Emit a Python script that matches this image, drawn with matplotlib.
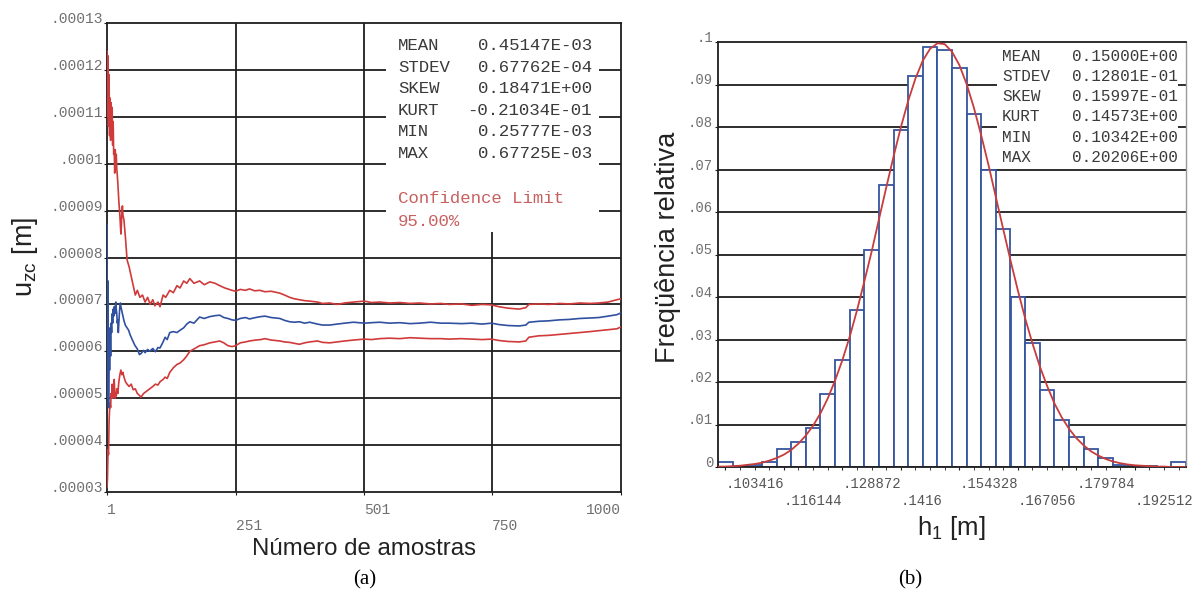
import numpy as np
import matplotlib.pyplot as plt
from matplotlib.patches import Rectangle

plt.rcParams['font.family'] = ['Liberation Sans', 'DejaVu Sans']
plt.rcParams['mathtext.default'] = 'regular'

# ---- (a) convergence of u_zc (values in 1e-5 m) vs number of samples ----
upper_band = [(1, 12.4), (2, 11.0), (3, 12.3), (4, 10.8), (5, 11.9), (6, 10.6), (7, 11.4), (8, 10.5),
              (9, 11.3), (10, 10.7), (11, 11.2), (12, 10.4), (13, 10.9), (14, 10.2), (15, 10.3),
              (16, 9.8), (17, 10.3), (18, 9.9), (19, 10.2), (20, 9.9), (22, 9.6), (24, 9.2), (26, 8.9),
              (28, 8.5), (29, 8.7), (30, 9.0), (31, 9.1), (32, 8.9), (34, 8.8), (37, 8.4), (40, 7.95),
              (44, 7.8), (48, 7.6), (52, 7.4), (56, 7.2), (60, 7.3), (65, 7.15), (70, 7.2), (75, 7.05),
              (80, 7.15), (85, 7.0), (90, 7.1), (94, 6.97), (100, 7.05), (104, 6.95), (110, 7.2),
              (115, 7.15), (123, 7.3), (130, 7.25), (137, 7.4), (143, 7.35), (150, 7.5), (156, 7.45),
              (162, 7.55), (170, 7.45), (181, 7.5), (190, 7.42), (201, 7.48), (211, 7.45), (220, 7.4),
              (230, 7.35), (244, 7.3), (251, 7.28), (260, 7.32), (270, 7.3), (278, 7.33), (288, 7.29),
              (298, 7.3), (308, 7.27), (320, 7.28), (337, 7.24), (346, 7.2), (356, 7.15), (365, 7.12),
              (375, 7.1), (385, 7.08), (395, 7.07), (410, 7.05), (420, 7.02), (434, 7.03), (448, 7.0),
              (463, 7.03), (480, 7.05), (501, 7.07), (515, 7.04), (531, 7.05), (550, 7.03), (570, 7.04),
              (590, 7.02), (608, 7.03), (630, 7.01), (650, 7.02), (666, 7.0), (690, 7.01), (710, 6.98),
              (730, 7.0), (748, 6.99), (763, 6.95), (780, 6.92), (802, 6.9), (815, 6.93), (821, 7.0),
              (840, 7.01), (860, 7.0), (880, 7.02), (900, 7.01), (920, 7.03), (940, 7.02), (957, 7.03),
              (975, 7.05), (992, 7.1), (1000, 7.12)]

mean_line = [(1, 8.7), (2, 5.0), (3, 7.5), (4, 4.8), (5, 6.3), (6, 5.6), (7, 6.5), (8, 5.9), (9, 6.6),
             (10, 6.4), (11, 6.8), (12, 6.6), (13, 6.9), (14, 6.75), (15, 6.95), (16, 6.8), (17, 6.9),
             (18, 7.05), (19, 6.9), (20, 6.8), (21, 6.6), (22, 6.67), (23, 6.4), (24, 6.6), (25, 6.8),
             (26, 6.95), (27, 7.03), (28, 6.95), (30, 6.85), (32, 6.75), (34, 6.65), (37, 6.55),
             (40, 6.5), (43, 6.45), (46, 6.35), (50, 6.25), (55, 6.13), (60, 6.05), (64, 5.93),
             (67, 5.95), (72, 6.02), (75, 5.97), (80, 6.04), (84, 6.0), (90, 6.06), (95, 5.99),
             (100, 6.08), (104, 6.07), (110, 6.2), (114, 6.3), (118, 6.25), (123, 6.4), (130, 6.42),
             (137, 6.4), (143, 6.45), (150, 6.5), (156, 6.58), (162, 6.63), (170, 6.6), (181, 6.73),
             (190, 6.7), (201, 6.74), (211, 6.76), (220, 6.77), (228, 6.72), (236, 6.7), (244, 6.67),
             (251, 6.66), (260, 6.7), (270, 6.72), (278, 6.69), (290, 6.72), (300, 6.74), (308, 6.75),
             (320, 6.72), (337, 6.7), (346, 6.66), (356, 6.63), (365, 6.62), (375, 6.63), (385, 6.6),
             (395, 6.62), (410, 6.58), (420, 6.56), (434, 6.56), (448, 6.58), (463, 6.6), (480, 6.62),
             (501, 6.6), (515, 6.61), (531, 6.62), (550, 6.6), (570, 6.61), (590, 6.59), (608, 6.6),
             (630, 6.62), (650, 6.6), (666, 6.6), (690, 6.59), (710, 6.6), (730, 6.58), (748, 6.6),
             (763, 6.57), (780, 6.55), (802, 6.54), (815, 6.56), (821, 6.62), (840, 6.64), (860, 6.65),
             (880, 6.67), (900, 6.68), (920, 6.7), (940, 6.71), (957, 6.72), (975, 6.75), (992, 6.78),
             (1000, 6.82)]

lower_band = [(1, 3.1), (2, 3.3), (3, 3.9), (4, 3.8), (5, 4.5), (6, 4.75), (7, 4.9), (8, 4.8), (9, 5.1),
              (10, 5.0), (11, 5.3), (12, 5.0), (13, 5.2), (14, 5.05), (15, 5.4), (16, 5.15), (17, 5.0),
              (18, 5.1), (19, 5.05), (20, 5.2), (22, 5.1), (24, 5.35), (26, 5.5), (28, 5.6), (30, 5.5),
              (32, 5.55), (34, 5.45), (37, 5.35), (40, 5.3), (44, 5.25), (48, 5.3), (52, 5.18),
              (56, 5.2), (60, 5.1), (65, 5.05), (67, 5.02), (72, 5.1), (78, 5.15), (84, 5.2), (90, 5.25),
              (95, 5.3), (100, 5.28), (104, 5.35), (110, 5.4), (114, 5.45), (118, 5.42), (123, 5.55),
              (130, 5.65), (137, 5.72), (143, 5.75), (150, 5.82), (156, 5.9), (162, 6.0), (170, 6.05),
              (181, 6.12), (190, 6.14), (201, 6.18), (211, 6.2), (220, 6.22), (228, 6.18), (236, 6.12),
              (244, 6.1), (251, 6.12), (260, 6.18), (270, 6.2), (278, 6.22), (290, 6.24), (300, 6.25),
              (308, 6.27), (320, 6.24), (337, 6.22), (346, 6.2), (356, 6.19), (365, 6.17), (375, 6.15),
              (385, 6.18), (395, 6.2), (410, 6.22), (420, 6.19), (434, 6.18), (448, 6.2), (463, 6.22),
              (480, 6.24), (501, 6.26), (515, 6.25), (531, 6.27), (550, 6.28), (570, 6.27), (590, 6.29),
              (608, 6.28), (630, 6.27), (650, 6.27), (666, 6.26), (690, 6.27), (710, 6.26), (730, 6.25),
              (748, 6.26), (763, 6.23), (780, 6.21), (802, 6.2), (815, 6.22), (821, 6.3), (840, 6.33),
              (860, 6.34), (880, 6.36), (900, 6.38), (920, 6.4), (940, 6.42), (957, 6.44), (975, 6.46),
              (992, 6.48), (1000, 6.52)]

stats_a = [("MEAN", "0.45147E-03"), ("STDEV", "0.67762E-04"), ("SKEW", "0.18471E+00"),
           ("KURT", "-0.21034E-01"), ("MIN", "0.25777E-03"), ("MAX", "0.67725E-03")]
xticks_a = [1, 251, 501, 750, 1000]
yticks_a = [3, 4, 5, 6, 7, 8, 9, 10, 11, 12, 13]
ylabels_a = [".00003", ".00004", ".00005", ".00006", ".00007", ".00008", ".00009",
             ".0001", ".00011", ".00012", ".00013"]

# ---- (b) histogram of h1 ----
h_min, h_max = 0.103416, 0.20206
hist_freq = [0.0012, 0.0002, 0.0004, 0.0012, 0.0042, 0.0060, 0.0092, 0.0171, 0.0252, 0.0370,
             0.0510, 0.0664, 0.0794, 0.0920, 0.0988, 0.0981, 0.0940, 0.0830, 0.0700, 0.0560,
             0.0400, 0.0292, 0.0181, 0.0110, 0.0071, 0.0042, 0.0021, 0.0004, 0.0002, 0.0003,
             0.0, 0.0012]
# fitted curve read at half-bin steps across the axis
curve_y = [0.0001, 0.0001, 0.0002, 0.0003, 0.0005, 0.0007, 0.0010, 0.0015, 0.0021, 0.0029,
           0.0040, 0.0055, 0.0074, 0.0097, 0.0126, 0.0161, 0.0203, 0.0251, 0.0306, 0.0368,
           0.0436, 0.0506, 0.0582, 0.0657, 0.0730, 0.0799, 0.0861, 0.0914, 0.0956, 0.0984,
           0.0997, 0.0995, 0.0977, 0.0946, 0.0901, 0.0845, 0.0780, 0.0710, 0.0635, 0.0560,
           0.0486, 0.0416, 0.0350, 0.0291, 0.0237, 0.0191, 0.0150, 0.0117, 0.0090, 0.0068,
           0.0051, 0.0037, 0.0027, 0.0019, 0.0013, 0.0009, 0.0006, 0.0004, 0.0003, 0.0002,
           0.0001, 0.0001, 0.0, 0.0, 0.0]
xlabels_b = [".103416", ".116144", ".128872", ".1416", ".154328", ".167056", ".179784", ".192512"]
stats_b = [("MEAN", "0.15000E+00"), ("STDEV", "0.12801E-01"), ("SKEW", "0.15997E-01"),
           ("KURT", "0.14573E+00"), ("MIN", "0.10342E+00"), ("MAX", "0.20206E+00")]

RED = '#d03a3a'
BLUE = '#3050a0'
GRID = '#1e1e1e'
MONO = 'Liberation Mono'

fig = plt.figure(figsize=(11.92, 5.94), dpi=100)
W, H = 1192, 594

# ================= panel (a) =================
ax = fig.add_axes([107 / W, 1 - 492 / H, 514 / W, 469 / H])
ax.set_xlim(1, 1000)
ax.set_ylim(3, 13)
for y in yticks_a[1:-1]:
    ax.axhline(y, color=GRID, lw=1.3, zorder=1)
for x in xticks_a[1:-1]:
    ax.axvline(x, color=GRID, lw=1.3, zorder=1)
ax.add_patch(Rectangle((544, 8.55), 957 - 544, 13 - 8.55, facecolor='white',
                       edgecolor='none', zorder=1.5))

for series, col in [(upper_band, RED), (lower_band, RED), (mean_line, BLUE)]:
    n, v = zip(*series)
    ax.plot(n, v, color=col, lw=1.2, zorder=3)

ax.set_yticks(yticks_a, ylabels_a)
xl = [str(t) if i % 2 == 0 else "\n" + str(t) for i, t in enumerate(xticks_a)]
ax.set_xticks(xticks_a, xl)
ax.tick_params(axis='both', length=2, color=GRID, labelcolor='#707070', labelsize=10.5)
ax.tick_params(axis='y', pad=1)
ax.tick_params(axis='x', pad=6)
for lbl in ax.get_yticklabels():
    lbl.set_fontfamily(MONO)
    lbl.set_va('baseline')
for i, lbl in enumerate(ax.get_xticklabels()):
    lbl.set_fontfamily(MONO)
    lbl.set_ha('right' if i == len(xticks_a) - 1 else 'left')
for s in ax.spines.values():
    s.set_color(GRID)
    s.set_linewidth(1.3)

rows_y = [0.953, 0.906, 0.861, 0.814, 0.768, 0.721]
for (k, val), y in zip(stats_a, rows_y):
    ax.text(0.566, y, k, transform=ax.transAxes, family=MONO, fontsize=12.5,
            color='#3a3a3a', va='center', ha='left', zorder=4)
    ax.text(0.9436, y, val, transform=ax.transAxes, family=MONO, fontsize=12.5,
            color='#3a3a3a', va='center', ha='right', zorder=4)
ax.text(0.566, 0.625, "Confidence Limit", transform=ax.transAxes, family=MONO,
        fontsize=12.5, color='#c86060', va='center', zorder=4)
ax.text(0.566, 0.576, "95.00%", transform=ax.transAxes, family=MONO,
        fontsize=12.5, color='#c86060', va='center', zorder=4)

fig.text(25 / W, 1 - 257 / H, "u$_{zc}$ [m]", rotation=90, ha='center', va='center',
         fontsize=19.5, color='#222222')
fig.text(364 / W, 1 - 549 / H, "Número de amostras", ha='center', va='center',
         fontsize=17.3, color='#222222')
fig.text(365 / W, 1 - 580 / H, "(a)", ha='center', va='center', fontsize=15,
         family='Liberation Serif')

# ================= panel (b) =================
bw = (h_max - h_min) / 31
centers = h_min + bw * np.arange(len(hist_freq))
x_left, x_right = h_min - bw / 2, h_max + bw / 2

bx = fig.add_axes([718 / W, 1 - 467 / H, 468 / W, 425 / H])
bx.set_xlim(x_left, x_right)
bx.set_ylim(0, 0.1)
for y in np.arange(1, 10) * 0.01:
    bx.axhline(y, color=GRID, lw=1.3, zorder=1)
bx.add_patch(Rectangle((0.16254, 0.0715), 0.2019 - 0.16254, 0.1 - 0.0715,
                       facecolor='white', edgecolor='none', zorder=1.5))
bx.bar(centers, hist_freq, width=bw, facecolor='white', edgecolor='#35559f',
       linewidth=1.3, zorder=2)
curve_x = np.linspace(x_left, x_right, len(curve_y))
bx.plot(curve_x, curve_y, color='#c83c3c', lw=1.3, zorder=3)

bx.set_yticks(np.arange(11) * 0.01, ["0"] + [".0%d" % i for i in range(1, 10)] + [".1"])
major = centers[::4]
bx.set_xticks(major, [t if i % 2 == 0 else "\n" + t for i, t in enumerate(xlabels_b)])
bx.set_xticks(centers, minor=True)
bx.tick_params(axis='both', which='both', length=2.5, color=GRID, labelsize=10)
bx.tick_params(axis='y', pad=1, labelcolor='#707070')
bx.tick_params(axis='x', pad=5, labelcolor='#555555')
for lbl in bx.get_yticklabels():
    lbl.set_fontfamily(MONO)
    lbl.set_va('baseline')
for lbl in bx.get_xticklabels():
    lbl.set_fontfamily(MONO)
    lbl.set_ha('left')
for name, s in bx.spines.items():
    s.set_color('#999999' if name == 'right' else GRID)
    s.set_linewidth(1.0 if name == 'right' else 1.3)

rows_y = [0.965, 0.918, 0.871, 0.824, 0.776, 0.729]
for (k, val), y in zip(stats_b, rows_y):
    bx.text(0.607, y, k, transform=bx.transAxes, family=MONO, fontsize=11.5,
            color='#3a3a3a', va='center', ha='left', zorder=4)
    bx.text(0.983, y, val, transform=bx.transAxes, family=MONO, fontsize=11.5,
            color='#3a3a3a', va='center', ha='right', zorder=4)

fig.text(668 / W, 1 - 247 / H, "Freqüência relativa", rotation=90, ha='center',
         va='center', fontsize=19.5, color='#222222')
fig.text(951 / W, 1 - 528 / H, "h$_1$ [m]", ha='center', va='center',
         fontsize=18.5, color='#222222')
fig.text(910 / W, 1 - 580 / H, "(b)", ha='center', va='center', fontsize=15,
         family='Liberation Serif')

fig.savefig("out.png", dpi=100, facecolor='white')
